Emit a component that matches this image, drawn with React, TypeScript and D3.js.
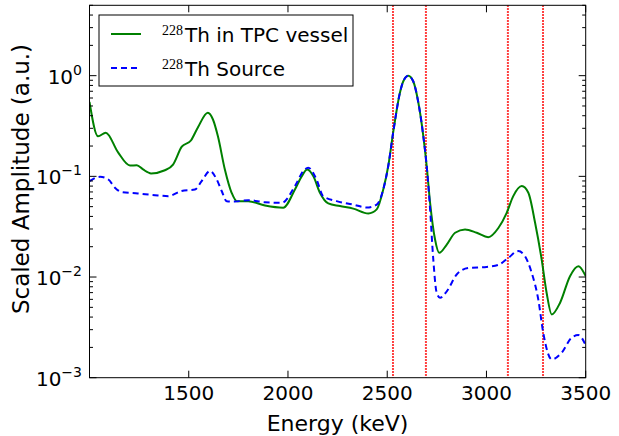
import React from "react";
import * as d3 from "d3";

const vesselEnergy = [1000,1043,1082,1144,1204,1238,1270,1310,1380,1421,1465,1511,1546,1596,1622,1647,1682,1716,1742,1800,1884,1976,2035,2069,2097,2128,2161,2203,2262,2329,2405,2447,2480,2505,2531,2564,2581,2606,2631,2657,2682,2699,2716,2741,2762,2800,2842,2892,2951,3009,3060,3102,3135,3178,3211,3245,3278,3303,3329,3371,3421,3463,3500];
const vesselAmp = [0.55,0.25,0.271,0.173,0.128,0.129,0.117,0.107,0.115,0.131,0.197,0.227,0.306,0.428,0.367,0.25,0.117,0.0687,0.0567,0.0567,0.0514,0.0489,0.074,0.1,0.117,0.1,0.0687,0.0538,0.0507,0.0478,0.0428,0.047,0.074,0.126,0.281,0.676,0.88,1.0,0.88,0.538,0.25,0.126,0.0546,0.0236,0.0174,0.021,0.0275,0.0297,0.0275,0.0249,0.0307,0.0434,0.0636,0.08,0.0687,0.0346,0.015,0.00698,0.00425,0.00556,0.0102,0.0128,0.0102];

const sourceEnergy = [1000,1053,1095,1128,1162,1244,1330,1397,1464,1531,1565,1607,1641,1666,1691,1733,1800,1884,1968,2035,2077,2102,2144,2177,2245,2329,2397,2447,2480,2505,2531,2564,2581,2606,2631,2657,2682,2699,2716,2732,2749,2766,2800,2850,2908,3001,3060,3110,3160,3194,3228,3261,3286,3329,3379,3429,3463,3500];
const sourceAmp = [0.0896,0.099,0.093,0.0772,0.0698,0.0676,0.065,0.0636,0.0715,0.074,0.0896,0.113,0.093,0.0715,0.0567,0.0562,0.058,0.0553,0.0546,0.08,0.113,0.122,0.093,0.0636,0.0567,0.0524,0.049,0.0524,0.074,0.126,0.281,0.676,0.88,1.0,0.88,0.538,0.25,0.126,0.047,0.015,0.007,0.00622,0.0072,0.0106,0.0123,0.0126,0.0132,0.0155,0.0181,0.0161,0.011,0.006,0.0028,0.00152,0.00177,0.0025,0.00265,0.0021];

const windowLines = [2529, 2695, 3108, 3285];
const xTickValues = [1000, 1500, 2000, 2500, 3000, 3500];
const xTickLabels = ["", "1500", "2000", "2500", "3000", "3500"];
const yTickExponents = [-3, -2, -1, 0];

const W = 619, H = 436;
const L = 89.5, R = 585.7, T = 5.3, B = 377.7;

export default function App() {
  const x = d3.scaleLinear().domain([1000, 3500]).range([L, R]);
  const y = d3.scaleLog().domain([1e-3, 5]).range([B, T]);

  const line = d3.line<[number, number]>()
    .x(d => x(d[0]))
    .y(d => y(d[1]))
    .curve(d3.curveMonotoneX);

  const vesselPts = vesselEnergy.map((e, i) => [e, vesselAmp[i]] as [number, number]);
  const sourcePts = sourceEnergy.map((e, i) => [e, sourceAmp[i]] as [number, number]);

  const minorY: number[] = [];
  for (let p = -3; p < 1; p++) {
    for (let m = 2; m <= 9; m++) {
      const v = m * Math.pow(10, p);
      if (v <= 5) minorY.push(v);
    }
  }

  const font = "DejaVu Sans, sans-serif";
  const serif = "Liberation Serif, DejaVu Serif, serif";
  const majorLen = 7, minorLen = 3.5;

  return (
    <svg width={W} height={H} style={{ position: "absolute", left: 0, top: 0, background: "#fff" }}>
      <rect x={0} y={0} width={W} height={H} fill="#fff" />
      <defs>
        <clipPath id="plotclip">
          <rect x={L} y={T} width={R - L} height={B - T} />
        </clipPath>
      </defs>
      <g clipPath="url(#plotclip)">
        {windowLines.map((e, i) => (
          <line key={i} x1={x(e)} x2={x(e)} y1={T} y2={B} stroke="#ff0000" strokeWidth={2} strokeDasharray="1.5,1.5" />
        ))}
        <path d={line(vesselPts) || ""} fill="none" stroke="#008000" strokeWidth={2} />
        <path d={line(sourcePts) || ""} fill="none" stroke="#0000ff" strokeWidth={2} strokeDasharray="6,4" />
      </g>
      <rect x={L} y={T} width={R - L} height={B - T} fill="none" stroke="#000" strokeWidth={1} />
      {xTickValues.map((v, i) => (
        <g key={i}>
          <line x1={x(v)} x2={x(v)} y1={B} y2={B - majorLen} stroke="#000" />
          <line x1={x(v)} x2={x(v)} y1={T} y2={T + majorLen} stroke="#000" />
          <text x={x(v)} y={400} textAnchor="middle" fontFamily={font} fontSize={20}>{xTickLabels[i]}</text>
        </g>
      ))}
      {yTickExponents.map((p) => {
        const yy = y(Math.pow(10, p));
        return (
          <g key={p}>
            <line x1={L} x2={L + majorLen} y1={yy} y2={yy} stroke="#000" />
            <line x1={R} x2={R - majorLen} y1={yy} y2={yy} stroke="#000" />
            <text x={82} y={yy + 8} textAnchor="end" fontFamily={font} fontSize={20}>
              10<tspan fontSize={14} dy={-9}>{p === 0 ? "0" : "\u2212" + Math.abs(p)}</tspan>
            </text>
          </g>
        );
      })}
      {minorY.map((v, i) => (
        <g key={i}>
          <line x1={L} x2={L + minorLen} y1={y(v)} y2={y(v)} stroke="#000" />
          <line x1={R} x2={R - minorLen} y1={y(v)} y2={y(v)} stroke="#000" />
        </g>
      ))}
      <text x={(L + R) / 2} y={431} textAnchor="middle" fontFamily={font} fontSize={22}>Energy (keV)</text>
      <text transform={`translate(29,179) rotate(-90)`} textAnchor="middle" fontFamily={font} fontSize={23}>Scaled Amplitude (a.u.)</text>
      <rect x={99} y={15} width={254} height={71} fill="#fff" stroke="#000" strokeWidth={1} />
      <line x1={111} x2={141} y1={34} y2={34} stroke="#008000" strokeWidth={2} />
      <line x1={111} x2={141} y1={68} y2={68} stroke="#0000ff" strokeWidth={2} strokeDasharray="6,4" />
      <text x={162} y={35} fontFamily={serif} fontSize={14}>228</text>
      <text x={185} y={42} fontFamily={font} fontSize={20}>Th in TPC vessel</text>
      <text x={162} y={69} fontFamily={serif} fontSize={14}>228</text>
      <text x={185} y={76} fontFamily={font} fontSize={20}>Th Source</text>
    </svg>
  );
}
